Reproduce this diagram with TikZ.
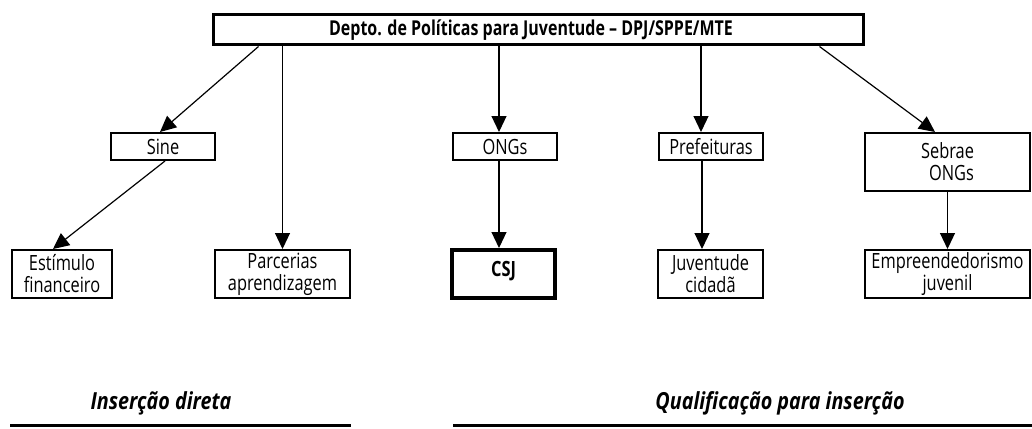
\documentclass[tikz,border=0pt]{standalone}
\usepackage{fontspec}
\setmainfont{Open Sans}[FakeStretch=0.78]
\newfontfamily\labfont{Open Sans}[FakeStretch=0.84]
\usetikzlibrary{arrows.meta,calc}
\begin{document}
\begin{tikzpicture}[x=1pt,y=-1pt,
  box/.style={draw, line width=2pt, rectangle, inner sep=1pt, align=center,
    font=\fontsize{21}{22}\selectfont},
  topbox/.style={box, line width=3pt, font=\fontsize{20.5}{22}\selectfont\bfseries},
  csjbox/.style={box, line width=4pt, font=\fontsize{21}{22}\selectfont\bfseries},
  arr/.style={line width=1.2pt, -{Triangle[length=16pt,width=15pt]}},
  grouplabel/.style={inner sep=0pt, font=\labfont\fontsize{23.5}{25}\selectfont\bfseries\itshape},
  groupline/.style={line width=3pt}]
\useasboundingbox (0,0) rectangle (1032,428);

% top
\node[topbox, minimum width=650pt, minimum height=30pt] (top) at (538,30) {\hspace*{-14pt}Depto. de Políticas para Juventude -- DPJ/SPPE/MTE};

% second row
\node[box, minimum width=104pt, minimum height=27pt] (sine) at (163,146.5) {Sine};
\node[box, minimum width=104pt, minimum height=27pt] (ongs) at (505,146.5) {ONGs};
\node[box, minimum width=104pt, minimum height=27pt] (pref) at (711,146.5) {Prefeituras};
\node[box, minimum width=165pt, minimum height=58pt] (sebrae) at (947.5,162) {Sebrae\\\hspace*{8pt}ONGs};

% third row
\node[box, minimum width=100pt, minimum height=48pt] (estim) at (62,274) {Estímulo\\financeiro};
\node[box, minimum width=135pt, minimum height=48pt] (parc) at (282.5,274) {Parcerias\\aprendizagem};
\node[csjbox, minimum width=103pt, minimum height=48pt] (csj) at (503.5,274) {\raisebox{10pt}{CSJ}};
\node[box, minimum width=105pt, minimum height=48pt] (juv) at (710.5,274) {Juventude\\cidadã};
\node[box, minimum width=165pt, minimum height=48pt] (empr) at (947.5,274) {Empreendedorismo\\juvenil};

% connectors
\draw[arr] ([xshift=47pt]top.south west) -- ([xshift=-3pt]sine.north);
\draw[arr] (top.south -| parc.north) -- (parc.north);
\draw[arr] ([xshift=-6pt]top.south -| ongs.north) -- ([xshift=-6pt]ongs.north);
\draw[arr] ([xshift=-10pt]top.south -| pref.north) -- ([xshift=-10pt]pref.north);
\draw[arr] ([xshift=-45pt]top.south east) -- ([xshift=-12.5pt]sebrae.north);
\draw[arr] ([xshift=2pt]sine.south) -- ([xshift=-9pt]estim.north);
\draw[arr] ([xshift=-6pt]ongs.south) -- ([xshift=-6pt]ongs.south |- csj.north);
\draw[arr] ([xshift=-9pt]pref.south) -- ([xshift=-9pt]pref.south |- juv.north);
\draw[arr] (sebrae.south) -- (empr.north);

% group labels
\node[grouplabel] (lab1) at (161,403) {Inserção direta};
\node[grouplabel] (lab2) at (780,403) {Qualificação para inserção};
\coordinate (l1a) at (10,425);
\coordinate (l1b) at (351,425);
\coordinate (l2a) at (453,425);
\coordinate (l2b) at (1032,425);
\draw[groupline] (l1a) -- (l1b);
\draw[groupline] (l2a) -- (l2b);
\end{tikzpicture}
\end{document}
